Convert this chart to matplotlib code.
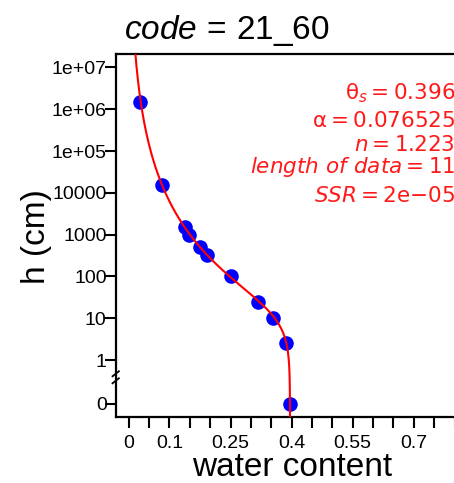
import numpy as np
import matplotlib
matplotlib.use("Agg")
import matplotlib.pyplot as plt
from matplotlib import transforms

plt.rcParams["font.family"] = ["Liberation Sans", "DejaVu Sans"]
plt.rcParams["mathtext.fontset"] = "custom"
plt.rcParams["mathtext.rm"] = "Liberation Sans"
plt.rcParams["mathtext.it"] = "Liberation Sans:italic"

# observed retention data
theta_obs = [0.027, 0.081, 0.138, 0.148, 0.176, 0.191, 0.251, 0.318, 0.355, 0.385, 0.397]
h_obs = [1.5e6, 15000, 1500, 1000, 500, 330, 100, 25, 10, 2.5, 0]

# fitted van Genuchten parameters
theta_s = 0.396
alpha = 0.076525
n_vg = 1.223
theta_r = 0.0
n_data = 11
ssr_text = "2e{-}05"
sample_code = "21\\_60"

# axis ticks
y_tick_vals = [1e7, 1e6, 1e5, 1e4, 1e3, 1e2, 1e1, 1e0]
y_tick_labels = ["1e+07", "1e+06", "1e+05", "10000", "1000", "100", "10", "1"]
x_tick_vals = [round(0.05 * i, 2) for i in range(17)]
x_label_vals = [0, 0.1, 0.25, 0.4, 0.55, 0.7]
x_label_text = ["0", "0.1", "0.25", "0.4", "0.55", "0.7"]

# h = 0 is shown below the axis break
ZERO_POS = 10 ** -1.04
BREAK_POS = 10 ** -0.41


def van_genuchten(h):
    m = 1 - 1 / n_vg
    return theta_r + (theta_s - theta_r) / (1 + (alpha * h) ** n_vg) ** m


W, H = 454, 483
fig = plt.figure(figsize=(W / 100, H / 100), dpi=100)
left, right, top, bottom = 115.7, 467.6, 54, 417
ax = fig.add_axes([left / W, 1 - bottom / H, (right - left) / W, (bottom - top) / H])

ax.set_yscale("log")
ax.set_xlim(-0.032, 0.832)
ax.set_ylim(10 ** -1.36, 10 ** 7.32)

h_plot = [ZERO_POS if h == 0 else h for h in h_obs]
ax.plot(theta_obs, h_plot, "o", color="#0000ff", markersize=10.5,
        markeredgewidth=0, zorder=3)

h_curve = np.logspace(-1.4, 7.4, 600)
ax.plot(van_genuchten(h_curve), h_curve, color="#ff0000", lw=1.5, zorder=4)

for s in ax.spines.values():
    s.set_linewidth(1.6)

ax.set_yticks(y_tick_vals + [ZERO_POS])
ax.set_yticklabels(y_tick_labels + ["0"])
ax.yaxis.set_minor_locator(matplotlib.ticker.NullLocator())
ax.set_xticks(x_tick_vals)
ax.set_xticklabels([x_label_text[x_label_vals.index(v)] if v in x_label_vals else ""
                    for v in x_tick_vals])
ax.tick_params(axis="both", length=8, width=1.5, labelsize=14, colors="black")
ax.tick_params(axis="y", pad=-1.5)
ax.tick_params(axis="x", pad=5)

# axis break mark on the left spine
trans = transforms.blended_transform_factory(ax.transAxes, ax.transData)
for dy in (-3.5, 3.5):
    off = transforms.ScaledTranslation(0, dy / 100, fig.dpi_scale_trans)
    ax.plot([-0.009, 0.009], [BREAK_POS / 10 ** 0.06, BREAK_POS * 10 ** 0.06],
            color="black", lw=1.3, transform=trans + off, clip_on=False, zorder=5)

# labels
fig.text(124 / W, 1 - 39.3 / H,
         r"$\mathit{code}\,=\,\mathrm{" + sample_code + "}$",
         fontsize=24, ha="left", va="baseline")
fig.text(291.7 / W, 0.5 / H, "water content", fontsize=24, ha="center", va="bottom")
fig.text(37 / W, 1 - 237 / H, "h (cm)", fontsize=24, rotation=90,
         ha="center", va="center")

red_lines = [
    (r"$\mathrm{\theta}_s = " + f"{theta_s}" + "$", 99.3),
    (r"$\mathrm{\alpha} = " + f"{alpha}" + "$", 126.7),
    (r"$n = " + f"{n_vg}" + "$", 151),
    (r"$length\ of\ data = " + f"{n_data}" + "$", 173),
    (r"$SSR = \mathrm{" + ssr_text + "}$", 201.7),
]
for txt, yb in red_lines:
    fig.text(455 / W, 1 - yb / H, txt, fontsize=15.5, color="#ff1a1a",
             ha="right", va="baseline", math_fontfamily="dejavusans")

fig.savefig("out.png", dpi=100)
